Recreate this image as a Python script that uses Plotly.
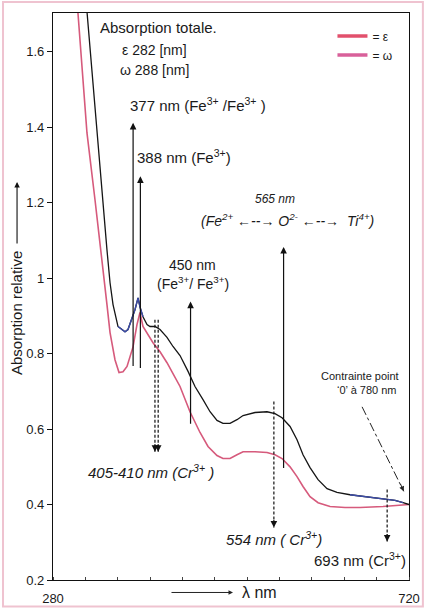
import plotly.graph_objects as go
import numpy as np

# ---------------- data ----------------
wavelength_black = [316, 322.0, 334.4, 341.8, 346.7, 350.5, 354.2, 360.3, 365.3, 369.0, 372.7,
                    377.7, 381.4, 385.1, 387.5, 391.2, 396.2, 399.9, 406.1, 412.3, 420.9, 428.3,
                    437.0, 446.9, 455.5, 465.4, 474.1, 482.7, 490.1, 498.8, 507.4, 514.9, 529.7,
                    544.5, 554.4, 563.1, 573.0, 581.6, 589.0, 597.7, 607.6, 618.7, 631.0, 647.1,
                    668.1, 687.9, 702.7, 712.6, 720]
absorb_black = [1.86, 1.703, 1.385, 1.208, 1.075, 0.988, 0.930, 0.872, 0.864, 0.858, 0.864,
                0.895, 0.917, 0.948, 0.924, 0.898, 0.877, 0.872, 0.872, 0.864, 0.843, 0.819,
                0.795, 0.753, 0.713, 0.678, 0.646, 0.623, 0.615, 0.615, 0.625, 0.636, 0.644,
                0.646, 0.641, 0.630, 0.607, 0.572, 0.532, 0.498, 0.466, 0.442, 0.432, 0.426,
                0.421, 0.416, 0.411, 0.405, 0.400]

wavelength_pink = [305, 310.9, 322.0, 331.9, 341.8, 346.7, 350.5, 356.6, 361.6, 366.5, 371.5,
                   375.2, 378.9, 383.8, 387.5, 391.2, 397.4, 403.6, 412.3, 420.9, 428.3, 437.0,
                   449.3, 455.5, 461.7, 471.6, 482.7, 490.1, 498.8, 507.4, 514.9, 529.7, 544.5,
                   554.4, 563.1, 573.0, 581.6, 589.0, 597.7, 607.6, 622.4, 640.9, 659.5, 687.9,
                   702.7, 712.6, 720]
absorb_pink = [1.87, 1.703, 1.385, 1.208, 1.030, 0.930, 0.856, 0.784, 0.750, 0.752, 0.766,
               0.790, 0.818, 0.877, 0.909, 0.872, 0.850, 0.829, 0.805, 0.776, 0.747, 0.713,
               0.646, 0.620, 0.591, 0.554, 0.530, 0.522, 0.522, 0.532, 0.540, 0.540, 0.538,
               0.532, 0.522, 0.500, 0.474, 0.448, 0.421, 0.405, 0.395, 0.392, 0.392, 0.395,
               0.397, 0.400, 0.400]

blue_ranges = [(358, 393), (635, 714)]

# solid arrows (Fe bands)
fe_nm = [379, 388, 450, 565]
fe_tail = [0.763, 0.758, 0.61, 0.493]
fe_tip = [1.412, 1.27, 0.938, 1.083]

# dashed arrows (Cr bands)
cr_nm = [406, 410, 553, 693]
cr_top = [0.890, 0.890, 0.673, 0.44]
cr_tip = [0.540, 0.540, 0.339, 0.302]

y_ticks = [0.2, 0.4, 0.6, 0.8, 1.0, 1.2, 1.4, 1.6]
y_ticktext = ["0.2", "0.4", "0.6", "0.8", "1", "1.2", "1.4", "1.6"]
x_ticks = [280, 720]

FONT = "Liberation Sans, Arial, sans-serif"
PINK = "#d65a7c"

fig = go.Figure()

fig.add_trace(go.Scatter(x=wavelength_pink, y=absorb_pink, mode="lines",
                         line=dict(color=PINK, width=1.6), showlegend=False, hoverinfo="skip"))
fig.add_trace(go.Scatter(x=wavelength_black, y=absorb_black, mode="lines",
                         line=dict(color="#151515", width=1.3), showlegend=False, hoverinfo="skip"))

wb = np.array(wavelength_black, dtype=float)
ab = np.array(absorb_black, dtype=float)
mask = np.zeros_like(wb, dtype=bool)
for lo, hi in blue_ranges:
    mask |= (wb >= lo) & (wb <= hi)
blue_y = [float(v) if m else None for v, m in zip(ab, mask)]
fig.add_trace(go.Scatter(x=wb, y=blue_y, mode="lines", connectgaps=False,
                         line=dict(color="#3c4ca8", width=1.4), showlegend=False, hoverinfo="skip"))

# legend-only entries
fig.add_trace(go.Scatter(x=[None], y=[None], mode="lines", name="= ε",
                         line=dict(color="#e2506c", width=3.5)))
fig.add_trace(go.Scatter(x=[None], y=[None], mode="lines", name="= ω",
                         line=dict(color="#d8609a", width=3.5)))

annotations = []
shapes = []

# solid arrows
for nm, t0, t1 in zip(fe_nm, fe_tail, fe_tip):
    annotations.append(dict(x=nm, y=t1, ax=nm, ay=t0, xref="x", yref="y", axref="x", ayref="y",
                            text="", showarrow=True, arrowhead=2, arrowsize=1.1,
                            arrowwidth=1.2, arrowcolor="#111"))

# dashed arrows
for nm, t0, t1 in zip(cr_nm, cr_top, cr_tip):
    shapes.append(dict(type="line", xref="x", yref="y", x0=nm, x1=nm, y0=t0, y1=t1,
                       line=dict(color="#111", width=1.2, dash="3px,2px")))
    annotations.append(dict(x=nm, y=t1, ax=0, ay=-9, xref="x", yref="y",
                            text="", showarrow=True, arrowhead=2, arrowsize=1.1,
                            arrowwidth=1.2, arrowcolor="#111"))

# dash-dot pointer to 720 end
shapes.append(dict(type="line", xref="x", yref="y", x0=662, x1=713.5, y0=0.659, y1=0.435,
                   line=dict(color="#222", width=1, dash="dashdot")))
annotations.append(dict(x=713.5, y=0.435, ax=-4, ay=-9, xref="x", yref="y", text="",
                        showarrow=True, arrowhead=2, arrowsize=1, arrowwidth=1, arrowcolor="#222"))

def label(text, x, y, size=15, anchor="center", italic=False):
    if italic:
        text = "<i>" + text + "</i>"
    annotations.append(dict(x=x, y=y, xref="x", yref="y", text=text, showarrow=False,
                            xanchor=anchor, yanchor="middle", borderpad=0,
                            font=dict(family=FONT, size=size, color="#1a1a1a")))

label("Absorption totale.", 409.8, 1.664, 15)
label("ε 282 [nm]", 406, 1.605, 14)
label("ω 288 [nm]", 406, 1.552, 14)
label("377 nm (Fe<sup>3+</sup> /Fe<sup>3+</sup> )", 374, 1.46, 15, "left")
label("388 nm (Fe<sup>3+</sup>)", 382, 1.322, 15, "left")
label("450 nm", 453, 1.036, 14)
label("(Fe<sup>3+</sup>/ Fe<sup>3+</sup>)", 453, 0.988, 14)
label("565 nm", 554, 1.21, 12, italic=True)
label("(Fe<sup>2+</sup> ←--→ O<sup>2-</sup> ←--→  Ti<sup>4+</sup>)", 570, 1.155, 14, italic=True)
label("405-410 nm (Cr<sup>3+</sup> )", 401, 0.488, 15, italic=True)
label("554 nm ( Cr<sup>3+</sup>)", 553, 0.31, 15, italic=True)
label("693 nm (Cr<sup>3+</sup>)", 718, 0.254, 15, "right")
label("Contrainte point", 659.5, 0.742, 11)
label("‘0’ à 780 nm", 668, 0.704, 11)

# axis titles (paper coords)
annotations.append(dict(x=-0.101, y=0.471, xref="paper", yref="paper", text="Absorption relative",
                        textangle=-90, showarrow=False, xanchor="center", yanchor="middle",
                        font=dict(family=FONT, size=15, color="#1a1a1a")))
annotations.append(dict(x=-0.101, y=0.702, xref="paper", yref="paper", text="", ax=0, ay=63,
                        showarrow=True, arrowhead=2, arrowsize=1, arrowwidth=1.1, arrowcolor="#111"))
annotations.append(dict(x=0.579, y=-0.022, xref="paper", yref="paper", text="λ nm",
                        showarrow=False, xanchor="center", yanchor="middle",
                        font=dict(family=FONT, size=16, color="#1a1a1a")))
annotations.append(dict(x=0.5056, y=-0.022, xref="paper", yref="paper", text="", ax=-63, ay=0,
                        showarrow=True, arrowhead=2, arrowsize=0.9, arrowwidth=1, arrowcolor="#222"))

# faint pink scan border
shapes.append(dict(type="rect", xref="paper", yref="paper", x0=-0.1404, x1=1.039, y0=-0.0467, y1=1.0194,
                   line=dict(color="#efc3d0", width=2), layer="below"))

fig.update_layout(
    width=427, height=610,
    margin=dict(l=53, r=18, t=13, b=30, autoexpand=False),
    paper_bgcolor="white", plot_bgcolor="white",
    font=dict(family=FONT, size=13, color="#1a1a1a"),
    annotations=annotations, shapes=shapes,
    legend=dict(x=0.785, y=0.985, xanchor="left", yanchor="top", bgcolor="rgba(0,0,0,0)",
                font=dict(family=FONT, size=12), itemwidth=30, tracegroupgap=0),
    xaxis=dict(range=[280, 720], showgrid=False, zeroline=False, showline=True, mirror=True,
               automargin=False,
               linecolor="#111", linewidth=1.3, tickvals=x_ticks, ticks="",
               ticklabelstandoff=6, tickfont=dict(size=13),
               minor=dict(tickmode="linear", tick0=280, dtick=40, ticks="inside", ticklen=3,
                          tickcolor="#444")),
    yaxis=dict(range=[0.2, 1.703], showgrid=False, zeroline=False, showline=True, mirror=True,
               automargin=False,
               linecolor="#111", linewidth=1.3, tickvals=y_ticks, ticktext=y_ticktext,
               ticks="outside", ticklen=5, tickcolor="#111", tickfont=dict(size=13)),
)

fig.write_html("out.html", config={"displayModeBar": False},
               post_script="document.body.style.margin='0';document.body.style.overflow='hidden';")
